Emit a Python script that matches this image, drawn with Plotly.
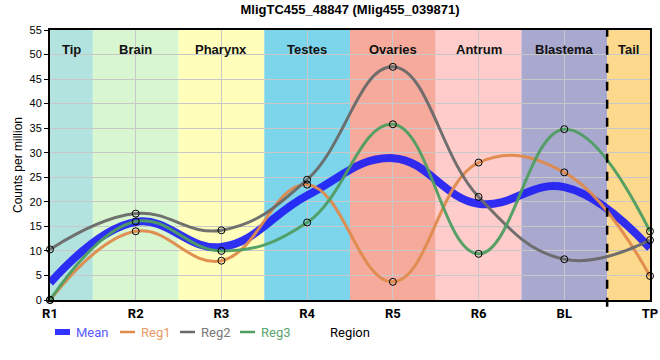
import plotly.graph_objects as go

title = "MligTC455_48847 (Mlig455_039871)"
categories = ["R1", "R2", "R3", "R4", "R5", "R6", "BL", "TP"]
mean_vals = [3.5, 15.9, 10.8, 21.3, 28.9, 19.6, 23.0, 10.6]
reg1 = [0.0, 14.0, 8.0, 23.5, 3.7, 28.0, 26.0, 4.9]
reg2 = [10.3, 17.6, 14.2, 24.5, 47.5, 21.0, 8.3, 12.2]
reg3 = [0.0, 16.0, 10.0, 15.8, 35.8, 9.4, 34.8, 14.0]
region_names = ["Tip", "Brain", "Pharynx", "Testes", "Ovaries", "Antrum", "Blastema", "Tail"]
region_colors = ["#b3e3df", "#d8f6d0", "#ffffbb", "#7dd5ec", "#f5aa9c", "#ffcccc", "#a9a8cf", "#fcd98c"]

xs = list(range(len(categories)))
fig = go.Figure()

# region bands
for i, (nm, col) in enumerate(zip(region_names, region_colors)):
    x0 = max(i - 0.5, 0)
    x1 = min(i + 0.5, len(categories) - 1)
    fig.add_shape(type="rect", xref="x", yref="paper", x0=x0, x1=x1, y0=0, y1=1,
                  fillcolor=col, line_width=0, layer="below")
    fig.add_annotation(x=(x0 + x1) / 2, y=0.963, xref="x", yref="paper", text="<b>%s</b>" % nm,
                       showarrow=False, font=dict(family="Liberation Sans, Arial", size=13, color="#111"))

fig.add_shape(type="line", xref="x", yref="paper", x0=6.5, x1=6.5, y0=-0.025, y1=1,
              line=dict(color="black", width=2.5, dash="dash"), layer="above")

series = [("Reg1", reg1, "#e08b4c"), ("Reg2", reg2, "#6a6a6a"), ("Reg3", reg3, "#4f9e62")]
SM = 1.2

fig.add_trace(go.Scatter(x=xs, y=mean_vals, mode="lines", name="Mean",
                         line=dict(color="rgba(30,30,245,0.92)", width=8, shape="spline", smoothing=SM)))
for nm, vals, col in series:
    fig.add_trace(go.Scatter(x=xs, y=vals, mode="lines", name=nm,
                             line=dict(color=col, width=3, shape="spline", smoothing=SM), opacity=0.95))
for nm, vals, col in series:
    fig.add_trace(go.Scatter(x=xs, y=vals, mode="markers", showlegend=False, cliponaxis=False,
                             marker=dict(size=7, color="rgba(0,0,0,0)", line=dict(color="black", width=1))))

# custom legend
leg = [("Mean", "#3333ff", "#5a5aff", 6, 55, 74),
       ("Reg1", "#e08b4c", "#e89a66", 2.5, 120, 139),
       ("Reg2", "#6a6a6a", "#777777", 2.5, 180, 199),
       ("Reg3", "#4f9e62", "#5aa670", 2.5, 240, 259)]
ly = -32 / 270
for nm, lcol, tcol, w, sx, tx in leg:
    fig.add_shape(type="line", xref="paper", yref="paper", x0=(sx - 50) / 600, x1=(sx + 15 - 50) / 600,
                  y0=ly, y1=ly, line=dict(color=lcol, width=w))
    fig.add_annotation(x=(tx - 50) / 600, y=ly, xref="paper", yref="paper", text=nm, showarrow=False,
                       xanchor="left", yanchor="middle", font=dict(family="Roboto", size=13, color=tcol))
fig.add_annotation(x=0.5, y=ly, xref="paper", yref="paper", text="Region", showarrow=False,
                   xanchor="center", yanchor="middle", font=dict(family="Roboto", size=13, color="black"))

fig.update_layout(
    width=660, height=360, margin=dict(l=50, r=10, t=30, b=60, autoexpand=False),
    paper_bgcolor="white", plot_bgcolor="white", showlegend=False,
    title=dict(text="<b>%s</b>" % title, x=0.5, xanchor="center", xref="paper", y=355 / 360, yref="container",
               yanchor="top", automargin=False,
               font=dict(family="Liberation Sans, Arial", size=13, color="black")),
    font=dict(family="Roboto", color="black"),
)
fig.update_xaxes(range=[0, 7], tickvals=xs, ticktext=categories, showgrid=True, gridcolor="#c8c8c8",
                 gridwidth=1, showline=True, linecolor="black", linewidth=2, mirror=True, automargin=False,
                 tickfont=dict(family="Roboto", size=13, color="black", weight="bold"),
                 zeroline=False, ticks="", layer="above traces")
fig.update_yaxes(range=[0, 55], dtick=5, showgrid=True, gridcolor="#c8c8c8", gridwidth=1, automargin=False,
                 showline=True, linecolor="black", linewidth=2, mirror=True, ticks="outside", ticklen=4,
                 tickcolor="black", tickfont=dict(family="Liberation Sans, Arial", size=11, color="black"),
                 title=dict(text="Counts per million", font=dict(family="Liberation Sans, Arial", size=12, color="black"), standoff=4),
                 zeroline=False)

fig.write_html("out.html", config={"displayModeBar": False},
               post_script="document.body.style.margin='0px';document.body.style.padding='0px';")
